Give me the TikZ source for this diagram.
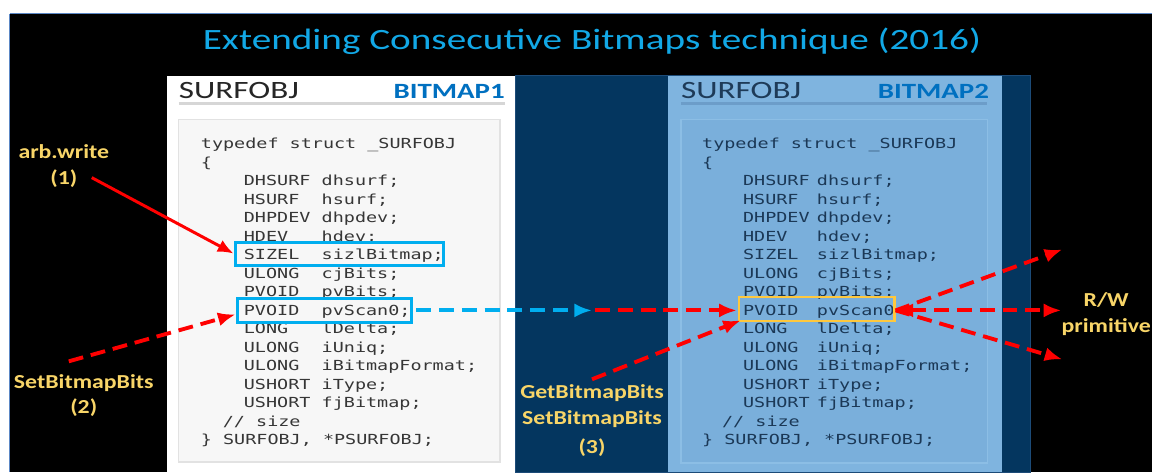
\documentclass[tikz,border=0pt]{standalone}
\usepackage{fontspec}
\setmainfont{Carlito}
\newfontfamily\titlefont[FakeStretch=1.33]{Carlito}
\newfontfamily\labelfont[FakeStretch=1.2]{Carlito}
\newfontfamily\codefont[FakeStretch=1.33]{DejaVu Sans Mono}
\usepackage[svgnames]{xcolor}
\usepackage{tikz}
\usetikzlibrary{arrows.meta}
\definecolor{TitleCyan}{HTML}{12A8E6}
\definecolor{Navy}{HTML}{04365F}
\definecolor{NavyEdge}{HTML}{1C4B78}
\definecolor{SkyPanel}{HTML}{7FB4DF}
\definecolor{SkyCode}{HTML}{7AAFDB}
\definecolor{SkyEdge}{HTML}{8CBEE5}
\definecolor{PaperCode}{HTML}{F7F7F7}
\definecolor{PaperEdge}{HTML}{E2E2E2}
\definecolor{RuleGray}{HTML}{D6D6D6}
\definecolor{RuleSky}{HTML}{6C9DC9}
\definecolor{HeadGray}{HTML}{262626}
\definecolor{HeadNavy}{HTML}{1E3B58}
\definecolor{TagBlue}{HTML}{0070C0}
\definecolor{CodeGray}{HTML}{363636}
\definecolor{CodeNavy}{HTML}{1B3856}
\definecolor{MarkBlue}{HTML}{00AEEF}
\definecolor{MarkGold}{HTML}{FFC83D}
\definecolor{LabelGold}{HTML}{F8D568}
\definecolor{FrameBlue}{HTML}{5B87C5}
\tikzstyle{none}=[inner sep=0pt]
\tikzstyle{frame}=[-,draw=FrameBlue,line width=0.6pt]
\tikzstyle{sheet}=[fill=white]
\tikzstyle{navy}=[fill=Navy,draw=NavyEdge,line width=0.6pt]
\tikzstyle{sky}=[fill=SkyPanel]
\tikzstyle{codebox}=[fill=PaperCode,draw=PaperEdge,line width=0.8pt]
\tikzstyle{codebox2}=[fill=SkyCode,draw=SkyEdge,line width=0.8pt]
\tikzstyle{rule}=[-,draw=RuleGray,line width=1.6pt]
\tikzstyle{rule2}=[-,draw=RuleSky,line width=1.6pt]
\tikzstyle{title}=[inner sep=0pt,text=TitleCyan,font=\titlefont\fontsize{16.8}{19}\selectfont]
\tikzstyle{head}=[anchor=west,inner sep=0pt,text height=9pt,text depth=1pt,text=HeadGray,font=\titlefont\fontsize{14.2}{16}\selectfont]
\tikzstyle{head2}=[style=head,text=HeadNavy]
\tikzstyle{tag}=[anchor=east,inner sep=0pt,text height=9pt,text depth=1pt,text=TagBlue,font=\titlefont\bfseries\fontsize{12.4}{15}\selectfont]
\tikzstyle{code}=[anchor=west,inner sep=0pt,text height=7pt,text depth=1pt,text=CodeGray,font=\codefont\fontsize{7.9}{9}\selectfont]
\tikzstyle{code2}=[style=code,text=CodeNavy]
\tikzstyle{label}=[inner sep=0pt,text=LabelGold,font=\labelfont\bfseries\fontsize{11.3}{13}\selectfont]
\tikzstyle{markblue}=[draw=MarkBlue,line width=1.7pt]
\tikzstyle{markgold}=[draw=MarkGold,line width=1.2pt]
\tikzstyle{arrow}=[-{Latex[length=9pt,width=7.5pt]},draw=Red,line width=1.7pt]
\tikzstyle{dasharrow}=[-{Latex[length=10pt,width=8pt]},draw=Red,line width=2.2pt,dash pattern=on 8.5pt off 4.5pt]
\tikzstyle{cyanarrow}=[-{Latex[length=10pt,width=8pt]},draw=MarkBlue,line width=2.2pt,dash pattern=on 8.5pt off 4.5pt]

\begin{document}
\begin{tikzpicture}
  % page, frame and the three panels
  \node [style=none] (0) at (0, 0) {};
  \node [style=none] (1) at (23.06, -9.44) {};
  \node [style=none] (2) at (0.18, -0.26) {};
  \node [style=none] (3) at (23.06, -0.26) {};
  \node [style=none] (4) at (0.18, -9.44) {};
  \node [style=none] (5) at (3.32, -1.5) {};
  \node [style=none] (6) at (10.3, -9.44) {};
  \node [style=none] (7) at (10.3, -1.5) {};
  \node [style=none] (8) at (20.62, -9.44) {};
  \node [style=none] (9) at (13.36, -1.5) {};
  \node [style=none] (10) at (20.06, -9.44) {};
  \node [style=none] (11) at (3.56, -2.38) {};
  \node [style=none] (12) at (10.0, -9.24) {};
  \node [style=none] (13) at (13.62, -2.38) {};
  \node [style=none] (14) at (19.76, -9.26) {};
  \node [style=none] (15) at (3.56, -2.06) {};
  \node [style=none] (16) at (10.1, -2.06) {};
  \node [style=none] (17) at (13.62, -2.06) {};
  \node [style=none] (18) at (19.76, -2.06) {};
  \useasboundingbox (0.center) rectangle (1.center);
  \fill [white] (0.center) rectangle (1.center);
  \fill [black] (2.center) rectangle (1.center);
  \draw [style=frame] (4.center) to (2.center);
  \draw [style=frame] (2.center) to (3.center);
  \filldraw [style=navy] (7.center) rectangle (8.center);
  \fill [style=sheet] (5.center) rectangle (6.center);
  \fill [style=sky] (9.center) rectangle (10.center);
  \filldraw [style=codebox] (11.center) rectangle (12.center);
  \filldraw [style=codebox2] (13.center) rectangle (14.center);
  \draw [style=rule] (15.center) to (16.center);
  \draw [style=rule2] (17.center) to (18.center);

  % headings
  \node [style=title] (19) at (11.84, -0.8) {Extending Consecutive Bitmaps technique (2016)};
  \node [style=head] (20) at (3.56, -1.82) {SURFOBJ};
  \node [style=tag] (21) at (10.1, -1.82) {BITMAP1};
  \node [style=head2] (22) at (13.62, -1.82) {SURFOBJ};
  \node [style=tag] (23) at (19.8, -1.82) {BITMAP2};

  % struct of the first bitmap
  \node [style=code] (24) at (4.0, -2.86) {typedef struct \_SURFOBJ};
  \node [style=code] (25) at (4.0, -3.23) {\{};
  \node [style=code] (26) at (4.86, -3.6) {DHSURF};
  \node [style=code] (27) at (6.42, -3.6) {dhsurf;};
  \node [style=code] (28) at (4.86, -3.97) {HSURF};
  \node [style=code] (29) at (6.42, -3.97) {hsurf;};
  \node [style=code] (30) at (4.86, -4.34) {DHPDEV};
  \node [style=code] (31) at (6.42, -4.34) {dhpdev;};
  \node [style=code] (32) at (4.86, -4.71) {HDEV};
  \node [style=code] (33) at (6.42, -4.71) {hdev;};
  \node [style=code] (34) at (4.86, -5.08) {SIZEL};
  \node [style=code] (35) at (6.42, -5.08) {sizlBitmap;};
  \node [style=code] (36) at (4.86, -5.45) {ULONG};
  \node [style=code] (37) at (6.42, -5.45) {cjBits;};
  \node [style=code] (38) at (4.86, -5.82) {PVOID};
  \node [style=code] (39) at (6.42, -5.82) {pvBits;};
  \node [style=code] (40) at (4.86, -6.19) {PVOID};
  \node [style=code] (41) at (6.42, -6.19) {pvScan0;};
  \node [style=code] (42) at (4.86, -6.56) {LONG};
  \node [style=code] (43) at (6.42, -6.56) {lDelta;};
  \node [style=code] (44) at (4.86, -6.93) {ULONG};
  \node [style=code] (45) at (6.42, -6.93) {iUniq;};
  \node [style=code] (46) at (4.86, -7.3) {ULONG};
  \node [style=code] (47) at (6.42, -7.3) {iBitmapFormat;};
  \node [style=code] (48) at (4.86, -7.67) {USHORT};
  \node [style=code] (49) at (6.42, -7.67) {iType;};
  \node [style=code] (50) at (4.86, -8.04) {USHORT};
  \node [style=code] (51) at (6.42, -8.04) {fjBitmap;};
  \node [style=code] (52) at (4.44, -8.41) {// size};
  \node [style=code] (53) at (4.0, -8.78) {\} SURFOBJ, *PSURFOBJ;};

  % struct of the second bitmap
  \node [style=code2] (54) at (14.04, -2.86) {typedef struct \_SURFOBJ};
  \node [style=code2] (55) at (14.04, -3.23) {\{};
  \node [style=code2] (56) at (14.86, -3.6) {DHSURF};
  \node [style=code2] (57) at (16.34, -3.6) {dhsurf;};
  \node [style=code2] (58) at (14.86, -3.97) {HSURF};
  \node [style=code2] (59) at (16.34, -3.97) {hsurf;};
  \node [style=code2] (60) at (14.86, -4.34) {DHPDEV};
  \node [style=code2] (61) at (16.34, -4.34) {dhpdev;};
  \node [style=code2] (62) at (14.86, -4.71) {HDEV};
  \node [style=code2] (63) at (16.34, -4.71) {hdev;};
  \node [style=code2] (64) at (14.86, -5.08) {SIZEL};
  \node [style=code2] (65) at (16.34, -5.08) {sizlBitmap;};
  \node [style=code2] (66) at (14.86, -5.45) {ULONG};
  \node [style=code2] (67) at (16.34, -5.45) {cjBits;};
  \node [style=code2] (68) at (14.86, -5.82) {PVOID};
  \node [style=code2] (69) at (16.34, -5.82) {pvBits;};
  \node [style=code2] (70) at (14.86, -6.19) {PVOID};
  \node [style=code2] (71) at (16.34, -6.19) {pvScan0};
  \node [style=code2] (72) at (14.86, -6.56) {LONG};
  \node [style=code2] (73) at (16.34, -6.56) {lDelta;};
  \node [style=code2] (74) at (14.86, -6.93) {ULONG};
  \node [style=code2] (75) at (16.34, -6.93) {iUniq;};
  \node [style=code2] (76) at (14.86, -7.3) {ULONG};
  \node [style=code2] (77) at (16.34, -7.3) {iBitmapFormat;};
  \node [style=code2] (78) at (14.86, -7.67) {USHORT};
  \node [style=code2] (79) at (16.34, -7.67) {iType;};
  \node [style=code2] (80) at (14.86, -8.04) {USHORT};
  \node [style=code2] (81) at (16.34, -8.04) {fjBitmap;};
  \node [style=code2] (82) at (14.44, -8.41) {// size};
  \node [style=code2] (83) at (14.04, -8.78) {\} SURFOBJ, *PSURFOBJ;};

  % side labels
  \node [style=label] (84) at (1.26, -3.02) {arb.write};
  \node [style=label] (85) at (1.26, -3.56) {(1)};
  \node [style=label] (86) at (1.66, -7.66) {SetBitmapBits};
  \node [style=label] (87) at (1.66, -8.14) {(2)};
  \node [style=label] (88) at (11.84, -7.86) {GetBitmapBits};
  \node [style=label] (89) at (11.84, -8.38) {SetBitmapBits};
  \node [style=label] (90) at (11.84, -8.94) {(3)};
  \node [style=label] (91) at (22.14, -6.0) {R/W};
  \node [style=label] (92) at (22.14, -6.54) {primitive};

  % marked fields
  \node [style=none] (93) at (4.7, -4.84) {};
  \node [style=none] (94) at (8.86, -5.3) {};
  \node [style=none] (95) at (4.74, -5.96) {};
  \node [style=none] (96) at (8.22, -6.44) {};
  \node [style=none] (97) at (14.78, -5.94) {};
  \node [style=none] (98) at (17.9, -6.42) {};
  \draw [style=markblue] (93.center) rectangle (94.center);
  \draw [style=markblue] (95.center) rectangle (96.center);
  \draw [style=markgold] (97.center) rectangle (98.center);

  % arrow ends
  \node [style=none] (99) at (1.82, -3.54) {};
  \node [style=none] (100) at (4.66, -5.06) {};
  \node [style=none] (101) at (1.36, -7.22) {};
  \node [style=none] (102) at (4.7, -6.28) {};
  \node [style=none] (103) at (8.32, -6.2) {};
  \node [style=none] (104) at (11.84, -6.2) {};
  \node [style=none] (105) at (11.9, -6.2) {};
  \node [style=none] (106) at (14.74, -6.2) {};
  \node [style=none] (107) at (11.84, -7.58) {};
  \node [style=none] (108) at (14.82, -6.4) {};
  \node [style=none] (109) at (17.92, -6.2) {};
  \node [style=none] (110) at (21.26, -4.98) {};
  \node [style=none] (111) at (21.24, -6.2) {};
  \node [style=none] (112) at (21.26, -7.18) {};
  \draw [style=arrow] (99.center) to (100.center);
  \draw [style=dasharrow] (101.center) to (102.center);
  \draw [style=cyanarrow] (103.center) to (104.center);
  \draw [style=dasharrow] (105.center) to (106.center);
  \draw [style=dasharrow] (107.center) to (108.center);
  \draw [style=dasharrow] (109.center) to (110.center);
  \draw [style=dasharrow, {Latex[length=10pt,width=8pt]}-{Latex[length=10pt,width=8pt]}] (109.center) to (111.center);
  \draw [style=dasharrow] (109.center) to (112.center);
\end{tikzpicture}
\end{document}
